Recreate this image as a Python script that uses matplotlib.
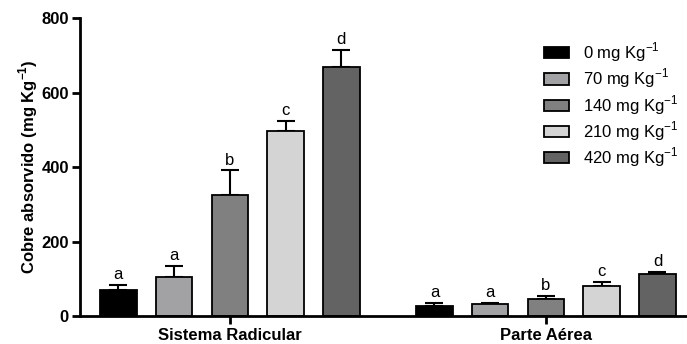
import numpy as np
import matplotlib
matplotlib.use("Agg")
import matplotlib.pyplot as plt

plt.rcParams['font.family'] = ['Liberation Sans', 'DejaVu Sans']
plt.rcParams['mathtext.fontset'] = 'custom'
plt.rcParams['mathtext.rm'] = 'Liberation Sans'
plt.rcParams['mathtext.bf'] = 'Liberation Sans:bold'

# data
grupos = ['Sistema Radicular', 'Parte Aérea']
doses = ['0 mg Kg$^{-1}$', '70 mg Kg$^{-1}$', '140 mg Kg$^{-1}$',
         '210 mg Kg$^{-1}$', '420 mg Kg$^{-1}$']
radicular = [70, 106, 324, 497, 670]
radicular_err = [13, 28, 67, 27, 45]
aerea = [28, 31, 47, 81, 112]
aerea_err = [6, 3, 8, 11, 7]
letras_radicular = ['a', 'a', 'b', 'c', 'd']
letras_aerea = ['a', 'a', 'b', 'c', 'd']

cores = ['#000000', '#a2a2a4', '#808080', '#d4d4d4', '#636363']

medias = [radicular, aerea]
erros = [radicular_err, aerea_err]
letras = [letras_radicular, letras_aerea]
centros = np.array([0.0, 5.67])
largura = 0.655

fig = plt.figure(figsize=(6.87, 3.44), dpi=100)
ax = fig.add_axes([0.1164, 0.0814, 0.8836, 0.8654])

for i in range(len(doses)):
    xs = centros + (i - 2)
    ys = [m[i] for m in medias]
    es = [e[i] for e in erros]
    ax.bar(xs, ys, width=largura, color=cores[i], edgecolor='black',
           linewidth=1.3, label=doses[i], zorder=2)
    ax.errorbar(xs, ys, yerr=[np.zeros(len(es)), es], fmt='none',
                ecolor='black', elinewidth=1.5, capsize=6.5, capthick=1.5,
                zorder=1)
    for x, y, e, l in zip(xs, ys, es, [lt[i] for lt in letras]):
        ax.text(x, y + e + 8, l, ha='center', va='bottom', fontsize=12)

ax.set_xlim(-2.69, 8.2)
ax.set_ylim(0, 800)
ax.set_yticks([0, 200, 400, 600, 800])
ax.set_xticks(centros)
ax.set_xticklabels(grupos, fontsize=12, fontweight='bold')
for t in ax.get_yticklabels():
    t.set_fontweight('bold')
    t.set_fontsize(12)
ax.set_ylabel('Cobre absorvido (mg Kg$^{\\mathbf{-1}}$)', fontsize=12,
              fontweight='bold')
ax.yaxis.set_label_coords(-0.066, 0.5)

ax.spines['top'].set_visible(False)
ax.spines['right'].set_visible(False)
ax.spines['left'].set_linewidth(2)
ax.spines['bottom'].set_linewidth(2)
ax.tick_params(axis='y', width=2, length=6, pad=2)
ax.tick_params(axis='x', width=2, length=6, pad=3)

ax.legend(loc='upper right', bbox_to_anchor=(1.01, 0.975), frameon=False,
          fontsize=12, handlelength=1.5, handleheight=0.65,
          labelspacing=0.15, handletextpad=0.8)

fig.savefig('out.png', dpi=100)
